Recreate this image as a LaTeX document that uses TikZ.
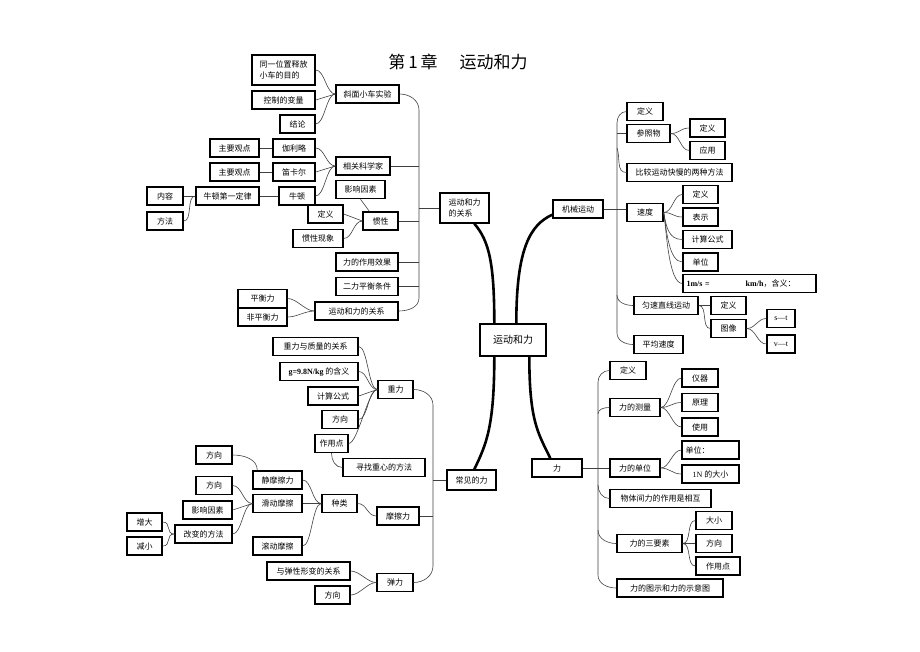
\documentclass[tikz,border=0pt]{standalone}
\usepackage{fontspec}
\setmainfont{Noto Sans CJK SC}
\newfontfamily\lat{Liberation Serif}
\usepackage{tikz}
\usetikzlibrary{calc}

\begin{document}
\begin{tikzpicture}[x=1pt, y=-1pt,
    box/.style={draw, line width=1.4pt, inner sep=1pt, minimum height=18, font=\fontsize{8}{11}\selectfont},
    lnk/.style={black!75, line width=0.6pt},
    trunk/.style={line width=2.6pt},
    fan/.style={out=0, in=180, distance=9},
    drop/.style={out=-80, in=180, distance=14}]
        \useasboundingbox (0,0) rectangle (920,651);
        %TITLE
        \node (title) at (458,62) {\fontsize{17}{20}\selectfont 第\,1\,章\hspace{22pt}运动和力};
        %CENTER
        \node[box, font=\fontsize{10}{12}\selectfont, minimum width=66, minimum height=32] (ydhl) at (513,340) {运动和力};
        %LEFT TOP: RELATION OF MOTION AND FORCE
        \node[box, minimum width=49, minimum height=30, align=left] (gx) at (464.5,208) {运动和力\\的关系};
        \node[box, minimum width=63] (xmxc) at (367.5,94) {斜面小车实验};
        \node[box, minimum width=54] (kxj) at (363,166) {相关科学家};
        \node[box, minimum width=35] (gxing) at (380.5,221) {惯性};
        \node[box, minimum width=62] (zyxg) at (367,262) {力的作用效果};
        \node[box, minimum width=62] (ephh) at (367,286.5) {二力平衡条件};
        \node[box, minimum width=83] (ydgx) at (356.5,311) {运动和力的关系};
        \node[box, minimum width=63, minimum height=30, align=left] (mude) at (283.5,70) {同一位置释放\\小车的目的};
        \node[box, minimum width=63] (kzbl) at (283.5,100) {控制的变量};
        \node[box, minimum width=35] (jl) at (297.5,124) {结论};
        \node[box, minimum width=42] (jll) at (294,148) {伽利略};
        \node[box, minimum width=42] (dke) at (294,172) {笛卡尔};
        \node[box, minimum width=36] (nd) at (297,196) {牛顿};
        \node[box, minimum width=49] (gd1) at (234.5,148) {主要观点};
        \node[box, minimum width=49] (gd2) at (234.5,172) {主要观点};
        \node[box, minimum width=63] (nd1) at (227.5,196) {牛顿第一定律};
        \node[box, minimum width=36] (nr) at (165,196) {内容};
        \node[box, minimum width=36] (ff) at (165,221) {方法};
        \node[box, minimum width=49] (yxys) at (360.5,189.5) {影响因素};
        \node[box, minimum width=35] (gxdy) at (325.5,214) {定义};
        \node[box, minimum width=50] (gxxx) at (318,238.5) {惯性现象};
        \node[box, minimum width=49] (phl) at (262.5,298.5) {平衡力};
        \node[box, minimum width=49] (fphl) at (262.5,317) {非平衡力};
        \coordinate (sa1) at (419,110);
        \coordinate (sa2) at (419,298);
        \draw[lnk] (xmxc.east) to[out=0,in=90] (sa1) -- (sa2) to[out=-90,in=0] (ydgx.east);
        \draw[lnk] (kxj.east) -- (kxj.east -| sa1);
        \draw[lnk] (gxing.east) -- (gxing.east -| sa1);
        \draw[lnk] (zyxg.east) -- (zyxg.east -| sa1);
        \draw[lnk] (ephh.east) -- (ephh.east -| sa1);
        \draw[lnk] (gx.west) -- (gx.west -| sa1);
        \draw[lnk] (mude.east) to[fan] (xmxc.west);
        \draw[lnk] (kzbl.east) -- (xmxc.west);
        \draw[lnk] (jl.east) to[fan] (xmxc.west);
        \draw[lnk] (jll.east) to[fan] (kxj.west);
        \draw[lnk] (dke.east) -- (kxj.west);
        \draw[lnk] (nd.east) to[fan] (kxj.west);
        \draw[lnk] (gd1.east) -- (jll.west);
        \draw[lnk] (gd2.east) -- (dke.west);
        \draw[lnk] (nd1.east) -- (nd.west);
        \draw[lnk] (nr.east) -- (nd1.west);
        \draw[lnk] (ff.east) to[fan] (nd1.west);
        \draw[lnk] (yxys.south) -- ($(gxing.north west)+(7,0)$);
        \draw[lnk] (gxdy.east) -- (gxing.west);
        \draw[lnk] (gxxx.east) to[fan] (gxing.west);
        \draw[lnk] (phl.east) to[fan] (ydgx.west);
        \draw[lnk] (fphl.east) to[fan] (ydgx.west);
        %LEFT BOTTOM: COMMON FORCES
        \node[box, minimum width=49, minimum height=20] (cjl) at (471.5,480) {常见的力};
        \node[box, minimum width=35] (zl) at (395.5,389.5) {重力};
        \node[box, minimum width=42] (mcl) at (398,516) {摩擦力};
        \node[box, minimum width=36] (tl) at (395,582.5) {弹力};
        \node[box, minimum width=85] (zlzl) at (315.5,346.5) {重力与质量的关系};
        \node[box, minimum width=78] (hy) at (319,371.5) {{\lat\bfseries g=9.8N/kg} 的含义};
        \node[box, minimum width=50] (jsgs) at (333,396) {计算公式};
        \node[box, minimum width=36] (zlfx) at (340,419.5) {方向};
        \node[box, minimum width=33] (zyd) at (331.5,443.5) {作用点};
        \node[box, minimum width=82] (zzx) at (384,467.5) {寻找重心的方法};
        \node[box, minimum width=35] (zlei) at (339.5,503.5) {种类};
        \node[box, minimum width=49] (jmc) at (277.5,480) {静摩擦力};
        \node[box, minimum width=49] (hdmc) at (277.5,503.5) {滑动摩擦};
        \node[box, minimum width=49] (gdmc) at (277.5,546) {滚动摩擦};
        \node[box, minimum width=36] (jfx) at (214,455) {方向};
        \node[box, minimum width=36] (hfx) at (214,485.5) {方向};
        \node[box, minimum width=49] (hys) at (207.5,510) {影响因素};
        \node[box, minimum width=57] (gbff) at (203.5,534) {改变的方法};
        \node[box, minimum width=35] (zd) at (144.5,522) {增大};
        \node[box, minimum width=35] (jx) at (144.5,546) {减小};
        \node[box, minimum width=83] (txgx) at (308.5,571) {与弹性形变的关系};
        \node[box, minimum width=35] (tfx) at (332.5,595) {方向};
        \coordinate (sb1) at (433,405);
        \coordinate (sb2) at (433,566);
        \draw[lnk] (zl.east) to[out=0,in=90] (sb1) -- (sb2) to[out=-90,in=0] (tl.east);
        \draw[lnk] (mcl.east) -- (mcl.east -| sb1);
        \draw[lnk] (cjl.west) -- (cjl.west -| sb1);
        \draw[lnk] (zlzl.east) to[fan] (zl.west);
        \draw[lnk] (hy.east) to[fan] (zl.west);
        \draw[lnk] (jsgs.east) -- (zl.west);
        \draw[lnk] (zlfx.east) to[fan] (zl.west);
        \draw[lnk] (zyd.east) to[fan] (zl.west);
        \draw[lnk] (zyd.south) to[out=-90,in=180] (zzx.west);
        \draw[lnk] (zlei.east) to[fan] (mcl.west);
        \draw[lnk] (jmc.east) to[fan] (zlei.west);
        \draw[lnk] (hdmc.east) -- (zlei.west);
        \draw[lnk] (gdmc.east) to[fan] (zlei.west);
        \draw[lnk] (jfx.east) to[out=0,in=90] ($(jmc.north west)+(5,0)$);
        \draw[lnk] (hfx.east) to[fan] (hdmc.west);
        \draw[lnk] (hys.east) -- (hdmc.west);
        \draw[lnk] (gbff.east) to[fan] (hdmc.west);
        \draw[lnk] (zd.east) to[fan] (gbff.west);
        \draw[lnk] (jx.east) to[fan] (gbff.west);
        \draw[lnk] (txgx.east) to[fan] (tl.west);
        \draw[lnk] (tfx.east) to[fan] (tl.west);
        %RIGHT TOP: MECHANICAL MOTION
        \node[box, minimum width=50] (jxyd) at (578,209) {机械运动};
        \node[box, minimum width=36] (jdy) at (645,111.5) {定义};
        \node[box, minimum width=43] (czw) at (648.5,133.5) {参照物};
        \node[box, minimum width=35] (cdy) at (707.5,128) {定义};
        \node[box, minimum width=35] (cyy) at (707.5,150.5) {应用};
        \node[box, minimum width=105] (bjff) at (679.5,172.5) {比较运动快慢的两种方法};
        \node[box, minimum width=36] (sd) at (645,212.5) {速度};
        \node[box, minimum width=35] (sdy) at (700.5,194.5) {定义};
        \node[box, minimum width=35] (sbs) at (700.5,217) {表示};
        \node[box, minimum width=49] (sgs) at (707.5,239.5) {计算公式};
        \node[box, minimum width=35] (sdw) at (700.5,262) {单位};
        \node[box, minimum width=133, text width=126, align=left] (shs) at (749.5,283.5) {{\lat\bfseries 1m/s =}\hspace{36pt}{\lat\bfseries km/h}，含义：};
        \node[box, minimum width=64] (ysyd) at (666,305.5) {匀速直线运动};
        \node[box, minimum width=35] (ydy) at (728.5,305.5) {定义};
        \node[box, minimum width=35] (tx) at (728.5,328.5) {图像};
        \node[box, minimum width=28] (st) at (781,318.5) {\lat s—t};
        \node[box, minimum width=28] (vt) at (781,344) {\lat v—t};
        \node[box, minimum width=49] (pjsd) at (658.5,344.5) {平均速度};
        \coordinate (sc1) at (617,123);
        \coordinate (sc2) at (617,333);
        \coordinate (sc3) at (617,148);
        \coordinate (sc4) at (617,295);
        \draw[lnk] (jdy.west) to[out=180,in=90] (sc1) -- (sc2) to[out=-90,in=180] (pjsd.west);
        \draw[lnk] (czw.west) -- (czw.west -| sc1);
        \draw[lnk] (sc3) to[out=-70,in=180] (bjff.west);
        \draw[lnk] (sc4) to[out=-90,in=180] (ysyd.west);
        \draw[lnk] (jxyd.east) -- (jxyd.east -| sd.west);
        \draw[lnk] (czw.east) to[fan] (cdy.west);
        \draw[lnk] (czw.east) to[fan] (cyy.west);
        \draw[lnk] (sd.east) to[fan] (sdy.west);
        \draw[lnk] (sd.east) to[fan] (sbs.west);
        \draw[lnk] (sd.east) to[drop] (sgs.west);
        \draw[lnk] (sd.east) to[drop] (sdw.west);
        \draw[lnk] (sd.east) to[drop] (shs.west);
        \draw[lnk] (ysyd.east) -- (ydy.west);
        \draw[lnk] (ysyd.east) to[fan] (tx.west);
        \draw[lnk] (tx.east) to[fan] (st.west);
        \draw[lnk] (tx.east) to[fan] (vt.west);
        %RIGHT BOTTOM: FORCE
        \node[box, minimum width=50] (li) at (557,468) {力};
        \node[box, minimum width=36] (ldy) at (628,370.5) {定义};
        \node[box, minimum width=50] (lcl) at (635,407.5) {力的测量};
        \node[box, minimum width=36] (yq) at (700,378) {仪器};
        \node[box, minimum width=36] (yl) at (700,402.5) {原理};
        \node[box, minimum width=36] (sy) at (700,427) {使用};
        \node[box, minimum width=50] (ldw) at (635,468) {力的单位};
        \node[box, minimum width=57, text width=50, align=left] (dw) at (710.5,450) {单位：};
        \node[box, minimum width=57] (ndx) at (710.5,474) {{\lat 1N} 的大小};
        \node[box, minimum width=101] (xh) at (660.5,498.5) {物体间力的作用是相互};
        \node[box, minimum width=65] (sys) at (649.5,543.5) {力的三要素};
        \node[box, minimum width=36] (dx) at (714,520.5) {大小};
        \node[box, minimum width=36] (lfx) at (714,543.5) {方向};
        \node[box, minimum width=44] (lzyd) at (718,566) {作用点};
        \node[box, minimum width=106] (sytu) at (670,588) {力的图示和力的示意图};
        \coordinate (sd1) at (598,382);
        \coordinate (sd2) at (598,575);
        \coordinate (sd3) at (598,414);
        \coordinate (sd4) at (598,485);
        \coordinate (sd5) at (598,530);
        \draw[lnk] (ldy.west) to[out=180,in=90] (sd1) -- (sd2) to[out=-90,in=180] (sytu.west);
        \draw[lnk] (sd3) to[out=90,in=180] (lcl.west);
        \draw[lnk] (li.east) -- (ldw.west);
        \draw[lnk] (sd4) to[out=-90,in=180] (xh.west);
        \draw[lnk] (sd5) to[out=-90,in=180] (sys.west);
        \draw[lnk] (lcl.east) to[fan] (yq.west);
        \draw[lnk] (lcl.east) to[fan] (yl.west);
        \draw[lnk] (lcl.east) to[fan] (sy.west);
        \draw[lnk] (ldw.east) to[fan] (dw.west);
        \draw[lnk] (ldw.east) to[fan] (ndx.west);
        \draw[lnk] (sys.east) to[fan] (dx.west);
        \draw[lnk] (sys.east) -- (lfx.west);
        \draw[lnk] (sys.east) to[fan] (lzyd.west);
        %TRUNKS
        \draw[trunk] ($(ydhl.north west)+(15,0)$) .. controls +(0,-59) and +(15,17) .. ($(gx.south west)+(35,0)$);
        \draw[trunk] ($(ydhl.north west)+(37,0)$) .. controls +(0,-75) and +(-22,10) .. ($(jxyd.south west)+(0,-4)$);
        \draw[trunk] ($(ydhl.south west)+(15,0)$) .. controls +(0,70) and +(12,-25) .. ($(cjl.north west)+(28,0)$);
        \draw[trunk] ($(ydhl.south west)+(50,0)$) .. controls +(0,65) and +(-12,-25) .. ($(li.north west)+(19,0)$);
\end{tikzpicture}
\end{document}
